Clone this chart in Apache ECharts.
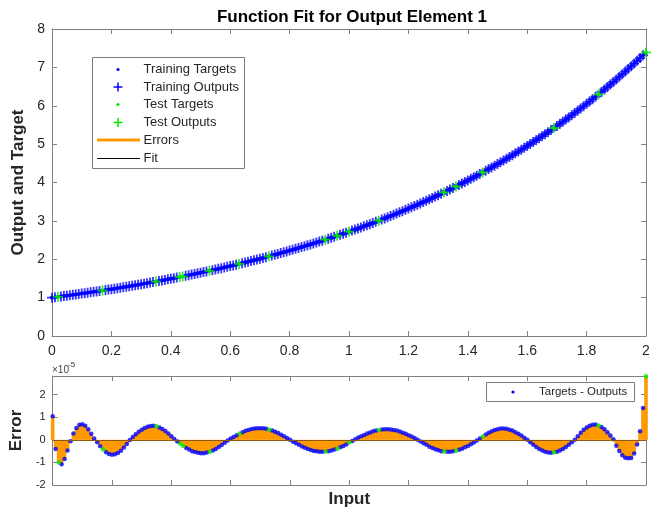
<!DOCTYPE html>
<html>
<head>
<meta charset="utf-8">
<script src="https://cdn.jsdelivr.net/npm/echarts@6/dist/echarts.min.js"></script>
<style>
html, body { margin: 0; padding: 0; background: #fff; }
#main { width: 656px; height: 510px; }
</style>
</head>
<body>
<div id="main"></div>
<script>
// inputs 0..2
const inputs = [
  0.00,0.01,0.02,0.03,0.04,0.05,0.06,0.07,0.08,0.09,
  0.10,0.11,0.12,0.13,0.14,0.15,0.16,0.17,0.18,0.19,
  0.20,0.21,0.22,0.23,0.24,0.25,0.26,0.27,0.28,0.29,
  0.30,0.31,0.32,0.33,0.34,0.35,0.36,0.37,0.38,0.39,
  0.40,0.41,0.42,0.43,0.44,0.45,0.46,0.47,0.48,0.49,
  0.50,0.51,0.52,0.53,0.54,0.55,0.56,0.57,0.58,0.59,
  0.60,0.61,0.62,0.63,0.64,0.65,0.66,0.67,0.68,0.69,
  0.70,0.71,0.72,0.73,0.74,0.75,0.76,0.77,0.78,0.79,
  0.80,0.81,0.82,0.83,0.84,0.85,0.86,0.87,0.88,0.89,
  0.90,0.91,0.92,0.93,0.94,0.95,0.96,0.97,0.98,0.99,
  1.00,1.01,1.02,1.03,1.04,1.05,1.06,1.07,1.08,1.09,
  1.10,1.11,1.12,1.13,1.14,1.15,1.16,1.17,1.18,1.19,
  1.20,1.21,1.22,1.23,1.24,1.25,1.26,1.27,1.28,1.29,
  1.30,1.31,1.32,1.33,1.34,1.35,1.36,1.37,1.38,1.39,
  1.40,1.41,1.42,1.43,1.44,1.45,1.46,1.47,1.48,1.49,
  1.50,1.51,1.52,1.53,1.54,1.55,1.56,1.57,1.58,1.59,
  1.60,1.61,1.62,1.63,1.64,1.65,1.66,1.67,1.68,1.69,
  1.70,1.71,1.72,1.73,1.74,1.75,1.76,1.77,1.78,1.79,
  1.80,1.81,1.82,1.83,1.84,1.85,1.86,1.87,1.88,1.89,
  1.90,1.91,1.92,1.93,1.94,1.95,1.96,1.97,1.98,1.99,
  2.00
];

const targets = [
  1.000,1.010,1.020,1.030,1.041,1.051,1.062,1.073,1.083,1.094,
  1.105,1.116,1.127,1.139,1.150,1.162,1.174,1.185,1.197,1.209,
  1.221,1.234,1.246,1.259,1.271,1.284,1.297,1.310,1.323,1.336,
  1.350,1.363,1.377,1.391,1.405,1.419,1.433,1.448,1.462,1.477,
  1.492,1.507,1.522,1.537,1.553,1.568,1.584,1.600,1.616,1.632,
  1.649,1.665,1.682,1.699,1.716,1.733,1.751,1.768,1.786,1.804,
  1.822,1.840,1.859,1.878,1.896,1.916,1.935,1.954,1.974,1.994,
  2.014,2.034,2.054,2.075,2.096,2.117,2.138,2.160,2.181,2.203,
  2.226,2.248,2.271,2.293,2.316,2.340,2.363,2.387,2.411,2.435,
  2.460,2.484,2.509,2.535,2.560,2.586,2.612,2.638,2.664,2.691,
  2.718,2.746,2.773,2.801,2.829,2.858,2.886,2.915,2.945,2.974,
  3.004,3.034,3.065,3.096,3.127,3.158,3.190,3.222,3.254,3.287,
  3.320,3.353,3.387,3.421,3.456,3.490,3.525,3.561,3.597,3.633,
  3.669,3.706,3.743,3.781,3.819,3.857,3.896,3.935,3.975,4.015,
  4.055,4.096,4.137,4.179,4.221,4.263,4.306,4.349,4.393,4.437,
  4.482,4.527,4.572,4.618,4.665,4.711,4.759,4.807,4.855,4.904,
  4.953,5.003,5.053,5.104,5.155,5.207,5.259,5.312,5.366,5.419,
  5.474,5.529,5.585,5.641,5.697,5.755,5.812,5.871,5.930,5.989,
  6.050,6.110,6.172,6.234,6.297,6.360,6.424,6.488,6.554,6.619,
  6.686,6.753,6.821,6.890,6.959,7.029,7.099,7.171,7.243,7.316,
  7.389
];

// targets - outputs, in units of 1e-5
const errors = [
  1.05,-0.40,-1.00,-1.08,-0.85,-0.47,-0.06,0.28,0.53,0.67,
  0.69,0.62,0.47,0.27,0.06,-0.11,-0.28,-0.43,-0.55,-0.63,
  -0.66,-0.64,-0.58,-0.48,-0.34,-0.18,-0.01,0.13,0.25,0.36,
  0.45,0.53,0.58,0.61,0.62,0.60,0.55,0.48,0.39,0.28,
  0.16,0.04,-0.07,-0.17,-0.27,-0.36,-0.43,-0.50,-0.54,-0.57,
  -0.59,-0.59,-0.56,-0.53,-0.47,-0.40,-0.32,-0.23,-0.13,-0.03,
  0.06,0.13,0.21,0.28,0.34,0.40,0.44,0.48,0.50,0.52,
  0.52,0.51,0.49,0.45,0.41,0.36,0.30,0.23,0.16,0.08,
  0.00,-0.08,-0.15,-0.22,-0.29,-0.35,-0.41,-0.45,-0.49,-0.51,
  -0.53,-0.53,-0.52,-0.50,-0.47,-0.43,-0.39,-0.33,-0.27,-0.20,
  -0.12,-0.05,0.03,0.10,0.16,0.22,0.28,0.33,0.38,0.41,
  0.44,0.46,0.47,0.47,0.46,0.44,0.41,0.37,0.32,0.27,
  0.21,0.15,0.08,0.01,-0.07,-0.15,-0.22,-0.30,-0.36,-0.42,
  -0.46,-0.50,-0.52,-0.53,-0.53,-0.51,-0.48,-0.44,-0.39,-0.33,
  -0.27,-0.19,-0.12,-0.03,0.06,0.15,0.24,0.31,0.38,0.44,
  0.47,0.50,0.50,0.49,0.45,0.41,0.34,0.27,0.19,0.09,
  0.00,-0.11,-0.22,-0.32,-0.40,-0.47,-0.53,-0.56,-0.57,-0.56,
  -0.53,-0.47,-0.40,-0.32,-0.22,-0.11,0.00,0.16,0.31,0.45,
  0.55,0.63,0.67,0.68,0.64,0.57,0.47,0.34,0.19,0.03,
  -0.26,-0.49,-0.68,-0.79,-0.82,-0.80,-0.60,-0.20,0.38,1.41,
  2.82
];

// inputs that belong to the test set
const testInputs = [0.02,0.17,0.35,0.43,0.44,0.53,0.63,0.73,0.92,0.96,1.00,1.10,1.32,1.36,1.45,1.69,1.84,2.00];

const BLUE = '#0000ff', GREEN = '#00e600', ORANGE = '#ff9900';
const AXIS = '#808080', TXT = '#262626', FONT = 'Liberation Sans, Arial, sans-serif';
const PLUS = 'path://M0,4.1H10V5.9H0ZM4.1,0H5.9V10H4.1Z';

const trainT = [], trainO = [], testT = [], testO = [], fit = [];
const errTrain = [], errTest = [], errBars = [];
inputs.forEach((x, i) => {
  const isTest = testInputs.some(t => Math.abs(t - x) < 1e-9);
  const out = targets[i] - errors[i] * 1e-5;
  fit.push([x, out]);
  errBars.push([x, errors[i]]);
  if (isTest) {
    testT.push([x, targets[i]]); testO.push([x, out]); errTest.push([x, errors[i]]);
  } else {
    trainT.push([x, targets[i]]); trainO.push([x, out]); errTrain.push([x, errors[i]]);
  }
});

function xAx(grid, pos, labels, extra) {
  return Object.assign({
    gridIndex: grid, type: 'value', position: pos, min: 0, max: 2, interval: 0.2,
    axisLine: { onZero: false, lineStyle: { color: AXIS } },
    axisTick: { inside: true, length: 5, lineStyle: { color: AXIS } },
    axisLabel: { show: labels, color: TXT, fontSize: 14, fontFamily: FONT, margin: 8 },
    splitLine: { show: false }
  }, extra || {});
}
function yAx(grid, pos, labels, min, max, fs, extra) {
  return Object.assign({
    gridIndex: grid, type: 'value', position: pos, min: min, max: max, interval: 1,
    axisLine: { onZero: false, lineStyle: { color: AXIS } },
    axisTick: { inside: true, length: 5, lineStyle: { color: AXIS } },
    axisLabel: { show: labels, color: TXT, fontSize: fs, fontFamily: FONT, margin: 7, showMaxLabel: grid === 0 },
    splitLine: { show: false }
  }, extra || {});
}
const nameStyle = { fontSize: 17, fontWeight: 'bold', color: TXT, fontFamily: FONT };

const chart = echarts.init(document.getElementById('main'));

// legend rows in the top axes
const legY = [69.5, 87, 104.5, 122.5, 140, 158.5];
const legNames = ['Training Targets', 'Training Outputs', 'Test Targets', 'Test Outputs', 'Errors', 'Fit'];
const legend = [
  { type: 'rect', shape: { x: 92.5, y: 57.5, width: 152, height: 111 }, style: { fill: '#fff', stroke: '#7a7a7a', lineWidth: 1 } },
  { type: 'circle', shape: { cx: 118, cy: legY[0], r: 1.6 }, style: { fill: BLUE } },
  { type: 'line', shape: { x1: 113.5, y1: legY[1], x2: 122.5, y2: legY[1] }, style: { stroke: BLUE, lineWidth: 1.5 } },
  { type: 'line', shape: { x1: 118, y1: legY[1] - 4.5, x2: 118, y2: legY[1] + 4.5 }, style: { stroke: BLUE, lineWidth: 1.5 } },
  { type: 'circle', shape: { cx: 118, cy: legY[2], r: 1.6 }, style: { fill: GREEN } },
  { type: 'line', shape: { x1: 113.5, y1: legY[3], x2: 122.5, y2: legY[3] }, style: { stroke: GREEN, lineWidth: 1.5 } },
  { type: 'line', shape: { x1: 118, y1: legY[3] - 4.5, x2: 118, y2: legY[3] + 4.5 }, style: { stroke: GREEN, lineWidth: 1.5 } },
  { type: 'line', shape: { x1: 97, y1: legY[4], x2: 140, y2: legY[4] }, style: { stroke: ORANGE, lineWidth: 3 } },
  { type: 'line', shape: { x1: 97, y1: legY[5], x2: 140, y2: legY[5] }, style: { stroke: '#000', lineWidth: 1.2 } }
];
legNames.forEach((n, i) => legend.push({
  type: 'text', x: 143.5, y: legY[i],
  style: { text: n, fill: TXT, font: '13px ' + FONT, textVerticalAlign: 'middle' }
}));
// legend of the error axes
legend.push(
  { type: 'rect', shape: { x: 486.5, y: 382.5, width: 148, height: 19 }, style: { fill: '#fff', stroke: '#7a7a7a', lineWidth: 1 } },
  { type: 'circle', shape: { cx: 513, cy: 392, r: 1.6 }, style: { fill: BLUE } },
  { type: 'text', x: 539, y: 392, style: { text: 'Targets - Outputs', fill: TXT, font: '11.5px ' + FONT, textVerticalAlign: 'middle' } },
  // axis exponent
  { type: 'text', x: 52, y: 370, style: { text: '\u00d710', fill: '#404040', font: '10px ' + FONT, textVerticalAlign: 'middle' } },
  { type: 'text', x: 68, y: 365, style: { text: '-5', fill: '#404040', font: '8px ' + FONT, textVerticalAlign: 'middle' } }
);

chart.setOption({
  animation: false,
  backgroundColor: '#fff',
  title: {
    text: 'Function Fit for Output Element 1', left: 347, top: 4, textAlign: 'center',
    textStyle: { fontSize: 17, fontWeight: 'bold', color: '#000', fontFamily: FONT }
  },
  grid: [
    { left: 52, top: 29, width: 594, height: 307 },
    { left: 52, top: 376, width: 594, height: 109 }
  ],
  xAxis: [
    xAx(0, 'bottom', true),
    xAx(0, 'top', false),
    xAx(1, 'bottom', false, { name: 'Input', nameLocation: 'middle', nameGap: 6, nameTextStyle: nameStyle }),
    xAx(1, 'top', false)
  ],
  yAxis: [
    yAx(0, 'left', true, 0, 8, 14, { name: 'Output and Target', nameLocation: 'middle', nameGap: 18, nameTextStyle: nameStyle }),
    yAx(0, 'right', false, 0, 8, 14),
    yAx(1, 'left', true, -2, 2.83, 11, { name: 'Error', nameLocation: 'middle', nameGap: 17, nameTextStyle: nameStyle }),
    yAx(1, 'right', false, -2, 2.83, 11)
  ],
  series: [
    { name: 'Fit', type: 'line', xAxisIndex: 0, yAxisIndex: 0, data: fit, showSymbol: false,
      lineStyle: { color: '#000', width: 1 }, z: 1, silent: true },
    { name: 'Training Targets', type: 'scatter', xAxisIndex: 0, yAxisIndex: 0, data: trainT,
      symbolSize: 4, itemStyle: { color: BLUE }, z: 2 },
    { name: 'Training Outputs', type: 'scatter', xAxisIndex: 0, yAxisIndex: 0, data: trainO,
      symbol: PLUS, symbolSize: 10, itemStyle: { color: BLUE }, z: 3 },
    { name: 'Test Targets', type: 'scatter', xAxisIndex: 0, yAxisIndex: 0, data: testT,
      symbolSize: 4, itemStyle: { color: GREEN }, z: 4 },
    { name: 'Test Outputs', type: 'scatter', xAxisIndex: 0, yAxisIndex: 0, data: testO,
      symbol: PLUS, symbolSize: 10, itemStyle: { color: GREEN }, z: 5 },
    { name: 'Errors', type: 'bar', xAxisIndex: 2, yAxisIndex: 2, data: errBars, barWidth: 3.6,
      itemStyle: { color: ORANGE }, z: 1, silent: true,
      markLine: { silent: true, symbol: 'none', label: { show: false },
        lineStyle: { color: '#8a5a10', width: 1, type: 'solid' }, data: [{ yAxis: 0 }] } },
    { name: 'Targets - Outputs', type: 'scatter', xAxisIndex: 2, yAxisIndex: 2, data: errTrain,
      symbolSize: 4.5, itemStyle: { color: BLUE }, z: 3 },
    { name: 'Test Targets - Outputs', type: 'scatter', xAxisIndex: 2, yAxisIndex: 2, data: errTest,
      symbolSize: 4.5, itemStyle: { color: GREEN }, z: 4 }
  ],
  graphic: legend
});
</script>
</body>
</html>
